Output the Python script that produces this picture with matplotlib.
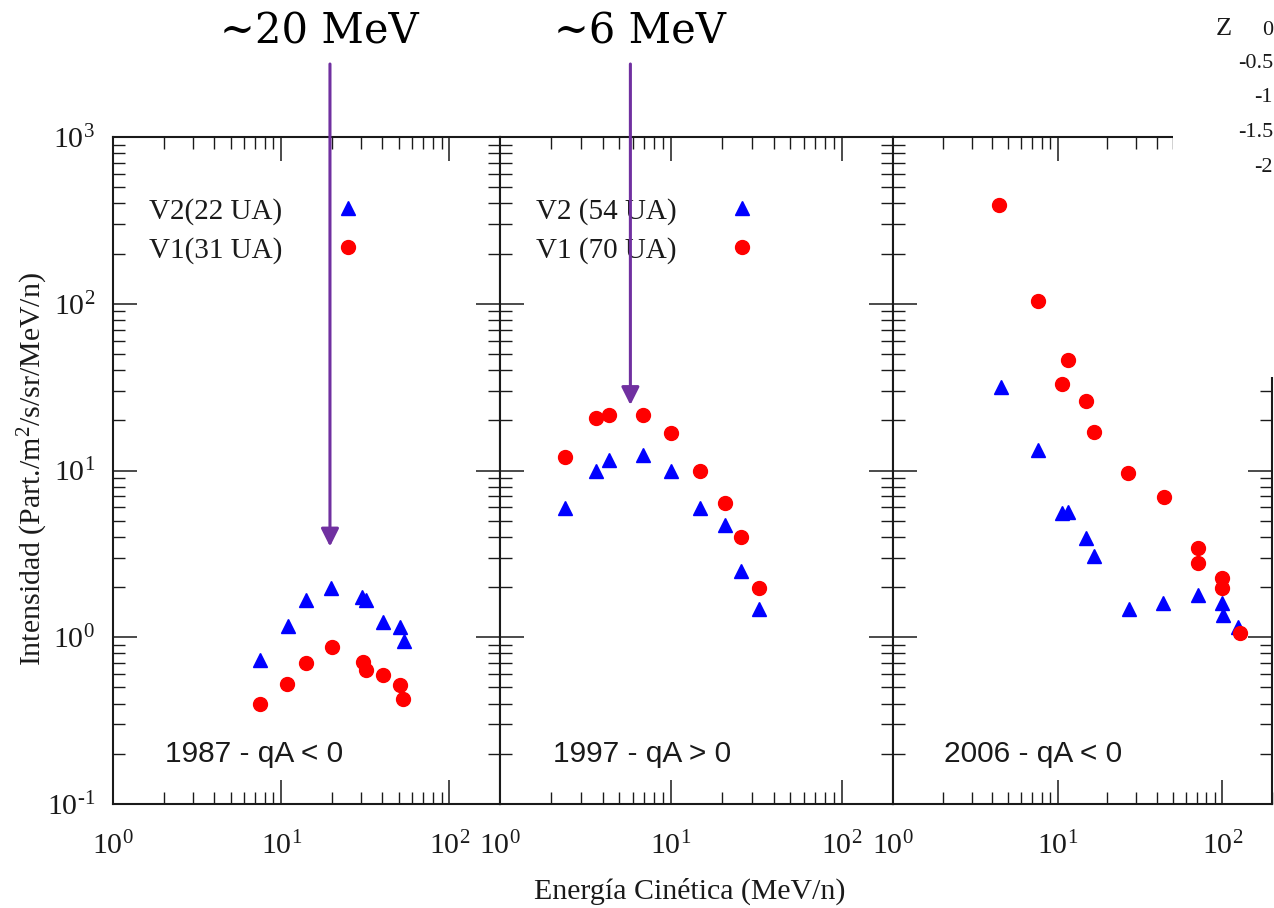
import math

import matplotlib
matplotlib.use("Agg")
import matplotlib.pyplot as plt
from matplotlib.patches import Rectangle
from matplotlib.ticker import FuncFormatter

plt.rcParams["font.family"] = "Liberation Serif"
plt.rcParams["mathtext.fontset"] = "custom"
plt.rcParams["mathtext.rm"] = "Liberation Serif"
plt.rcParams["mathtext.it"] = "Liberation Serif:italic"
plt.rcParams["mathtext.bf"] = "Liberation Serif:bold"
plt.rcParams["axes.unicode_minus"] = False

# ---------------------------------------------------------------------------
# Data
# ---------------------------------------------------------------------------

# 1987 - qA < 0
E_1987_V2 = [7.5, 11.0, 14.1, 19.8, 30.3, 32.0, 40.5, 51.0, 54.0]
I_1987_V2 = [0.73, 1.17, 1.67, 1.97, 1.74, 1.67, 1.23, 1.15, 0.95]
E_1987_V1 = [7.5, 10.8, 14.1, 20.1, 30.8, 32.0, 40.5, 51.0, 53.0]
I_1987_V1 = [0.40, 0.525, 0.70, 0.875, 0.71, 0.64, 0.594, 0.52, 0.427]

# 1997 - qA > 0
E_1997_V2 = [2.40, 3.64, 4.36, 6.92, 10.0, 14.8, 20.9, 25.6, 32.8]
I_1997_V2 = [5.98, 10.0, 11.6, 12.4, 10.0, 5.98, 4.71, 2.49, 1.48]
E_1997_V1 = [2.40, 3.64, 4.36, 6.92, 10.0, 14.8, 20.9, 25.6, 32.8]
I_1997_V1 = [12.0, 20.6, 21.6, 21.6, 16.7, 10.0, 6.35, 3.99, 1.97]

# 2006 - qA < 0
E_2006_V2 = [4.54, 7.63, 10.6, 11.5, 14.8, 16.7, 27.0, 43.6, 71.0, 99.0, 101.0, 124.0]
I_2006_V2 = [31.5, 13.2, 5.53, 5.66, 3.92, 3.07, 1.47, 1.60, 1.80, 1.60, 1.36, 1.16]
E_2006_V1 = [4.43, 7.63, 11.5, 10.6, 14.8, 16.7, 26.8, 44.0, 71.0, 71.0, 99.0, 99.0, 128.0]
I_2006_V1 = [391, 104, 46.0, 33.0, 26.1, 17.1, 9.7, 6.97, 3.44, 2.77, 2.27, 1.97, 1.06]

PANEL_TITLES = ["1987 - qA < 0", "1997 - qA > 0", "2006 - qA < 0"]
LEGEND_V2 = ["V2(22 UA)", "V2 (54 UA)", None]
LEGEND_V1 = ["V1(31 UA)", "V1 (70 UA)", None]

ARROW_E = [19.5, 5.8]          # MeV/n, panel 1 and panel 2
ARROW_TIP = [3.5, 24.7]
ARROW_TEXT = ["~20 MeV", "~6 MeV"]

Z_LABELS = ["0", "-0.5", "-1", "-1.5", "-2"]

# ---------------------------------------------------------------------------
# Layout (pixels of the 1274 x 908 canvas)
# ---------------------------------------------------------------------------
W, H = 1274, 908
AX_X = [(113, 500), (500, 893), (893, 1272)]
AX_TOP, AX_BOTTOM = 137, 804
PURPLE = "#7030A0"
INK = "#1a1a1a"


def fx(px):
    return px / W


def fy(py):
    return 1 - py / H


def decade_label(v, pos):
    """10^n with a plain hyphen for negative exponents."""
    n = int(round(math.log10(v)))
    exp = str(n) if n >= 0 else r"\text{-}" + str(-n)
    return r"$\mathdefault{10^{%s}}$" % exp


fig = plt.figure(figsize=(W / 100, H / 100), dpi=100)

data = [
    (E_1987_V2, I_1987_V2, E_1987_V1, I_1987_V1),
    (E_1997_V2, I_1997_V2, E_1997_V1, I_1997_V1),
    (E_2006_V2, I_2006_V2, E_2006_V1, I_2006_V1),
]

axes = []
for i, (x0, x1) in enumerate(AX_X):
    ax = fig.add_axes([fx(x0), fy(AX_BOTTOM), (x1 - x0) / W,
                       (AX_BOTTOM - AX_TOP) / H])
    e2, i2, e1, i1 = data[i]
    ax.plot(e2, i2, "^", color="#0000FF", ms=10, ls="none",
            label=LEGEND_V2[i], clip_on=False)
    ax.plot(e1, i1, "o", color="#FF0000", ms=10, ls="none",
            label=LEGEND_V1[i], clip_on=False)
    ax.set_xscale("log")
    ax.set_yscale("log")
    ax.set_xlim(1, 200)
    ax.set_ylim(0.1, 1000)
    ax.yaxis.set_major_formatter(FuncFormatter(decade_label))

    ax.tick_params(which="both", direction="in", top=True, right=True,
                   colors=INK, labelsize=21.5)
    ax.tick_params(which="major", length=17, width=1.1)
    ax.tick_params(which="minor", length=8.5, width=1.0)
    ax.tick_params(axis="x", pad=20)
    ax.tick_params(axis="y", pad=13)
    if i > 0:
        ax.tick_params(labelleft=False)
    for sp in ax.spines.values():
        sp.set_linewidth(1.5)
        sp.set_color(INK)

    ax.text(2.05, 0.2, PANEL_TITLES[i], family="Liberation Sans",
            fontsize=21.5, color=INK, ha="left", va="center")

    if LEGEND_V2[i]:
        ax.legend(loc="upper left", bbox_to_anchor=(0.092, 0.909),
                  frameon=False, markerfirst=False, fontsize=21,
                  handlelength=1.0, handletextpad=1.75, labelspacing=0.42,
                  borderpad=0, borderaxespad=0, labelcolor=INK)
    axes.append(ax)

# purple arrows marking the spectral peaks
for ax, e, tip in zip(axes[:2], ARROW_E, ARROW_TIP):
    ax.annotate("", xy=(e, tip), xytext=(e, 2740),
                arrowprops=dict(arrowstyle="-|>", color=PURPLE, lw=2.2,
                                mutation_scale=27, shrinkA=0, shrinkB=0),
                annotation_clip=False, zorder=10)

fig.text(fx(319), fy(43), ARROW_TEXT[0], family="DejaVu Serif",
         fontsize=30, ha="center", va="baseline", color="black")
fig.text(fx(640), fy(43), ARROW_TEXT[1], family="DejaVu Serif",
         fontsize=30, ha="center", va="baseline", color="black")

fig.text(fx(33), fy(469), "Intensidad (Part./m$^2$/s/sr/MeV/n)",
         rotation=90, ha="center", va="center", fontsize=21.5, color=INK)
fig.text(fx(690), fy(899), "Energía Cinética (MeV/n)", ha="center",
         va="baseline", fontsize=21.5, color=INK)

# white box hiding the corner of the last panel (colour-bar remnant)
fig.add_artist(Rectangle((fx(1173), fy(377)), 1 - fx(1173), 377 / H,
                         transform=fig.transFigure, facecolor="white",
                         edgecolor="none", zorder=5))
fig.text(fx(1224), fy(35), "Z", ha="center", va="baseline", fontsize=19,
         color=INK, zorder=6)
for lab, base in zip(Z_LABELS, [35, 68, 102, 137, 172]):
    fig.text(fx(1273), fy(base), lab, ha="right", va="baseline",
             fontsize=16, color=INK, zorder=6)

fig.savefig("out.png", dpi=100)
